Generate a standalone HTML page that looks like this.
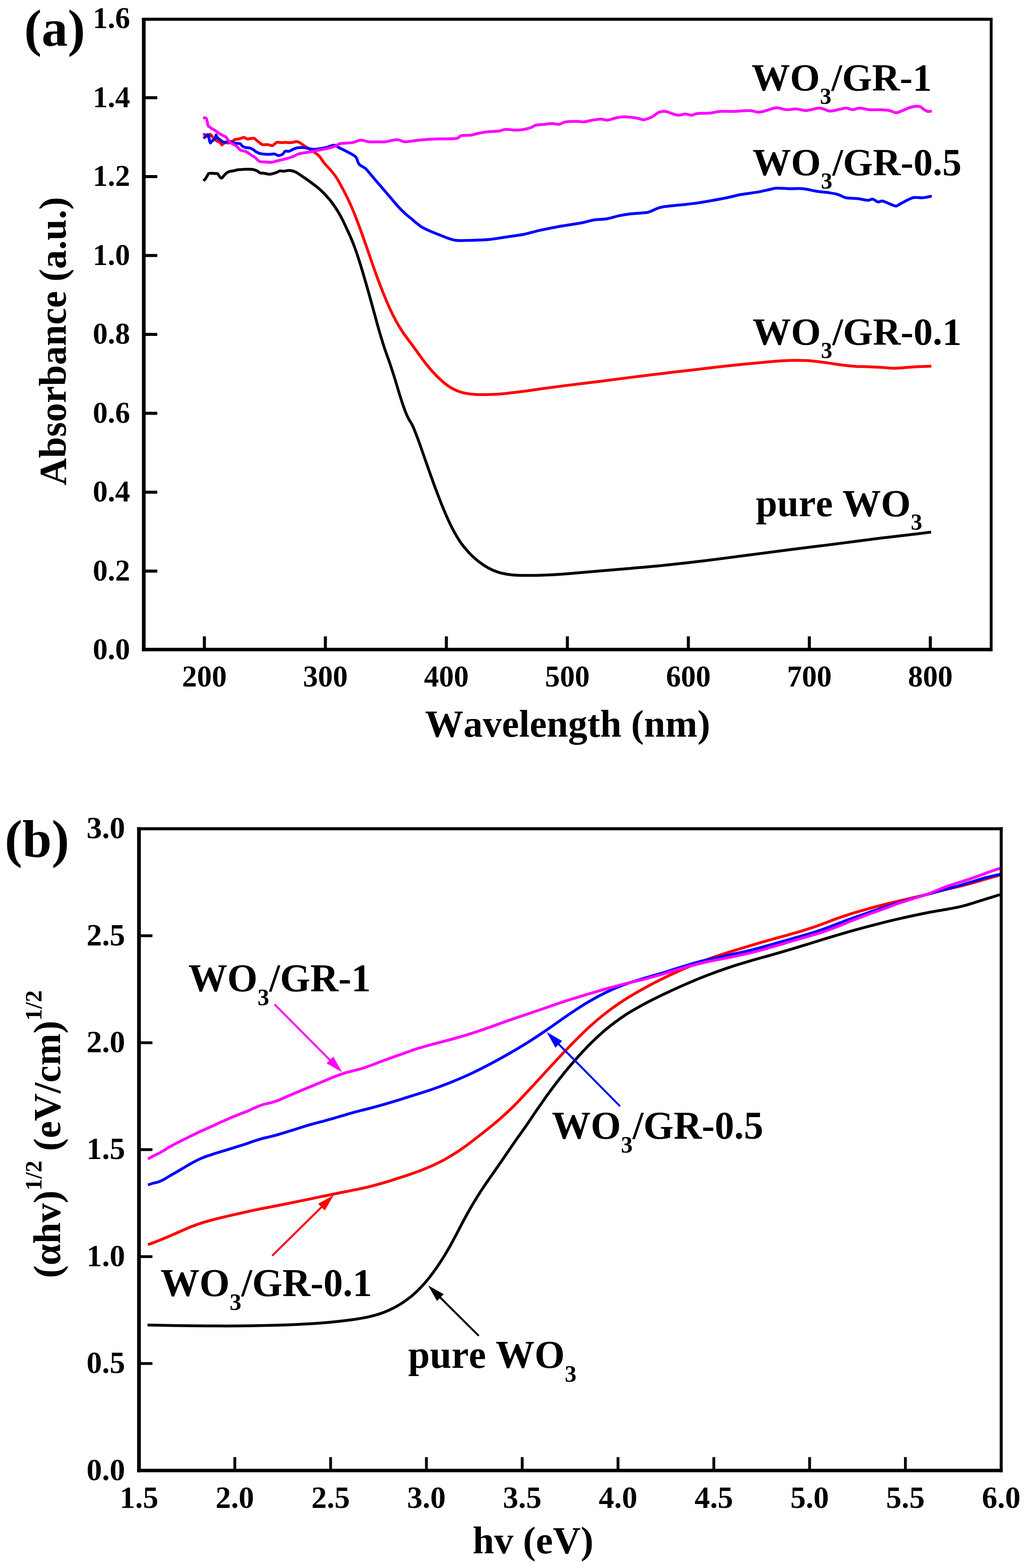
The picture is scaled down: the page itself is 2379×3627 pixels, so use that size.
<!DOCTYPE html>
<html><head><meta charset="utf-8"><title>WO3/GR absorbance</title>
<style>html,body{margin:0;padding:0;background:#fff;}svg{display:block;}</style>
</head><body>
<svg width="2379" height="3627" viewBox="0 0 2379 3627"><rect width="2379" height="3627" fill="#ffffff"/><g fill="none" stroke-linejoin="round" stroke-linecap="butt"><path d="M470.8,418.4 C471.6,417.6 473.9,415.8 475.4,413.7 C476.9,411.6 478.7,408.2 480.0,406.1 C481.3,404.1 481.3,402.3 483.1,401.4 C484.9,400.5 488.4,400.7 490.7,400.7 C493.0,400.7 494.8,401.3 496.9,401.4 C498.9,401.5 501.5,400.8 503.0,401.4 C504.5,402.0 504.6,403.5 506.1,405.3 C507.7,407.1 510.2,412.1 512.3,412.2 C514.3,412.3 516.3,408.2 518.4,406.1 C520.5,404.1 522.5,401.4 524.6,399.9 C526.7,398.3 528.2,397.6 530.7,396.8 C533.2,396.0 536.8,395.9 539.9,395.3 C543.0,394.7 546.1,393.5 549.2,393.0 C552.3,392.5 555.3,392.4 558.4,392.2 C561.5,391.9 564.5,391.6 567.6,391.5 C570.7,391.4 573.7,391.4 576.8,391.5 C579.9,391.6 583.0,391.6 586.1,392.2 C589.2,392.8 592.8,394.0 595.3,395.3 C597.8,396.6 598.8,399.0 601.4,399.9 C604.0,400.8 607.1,400.2 610.7,400.7 C614.3,401.2 619.4,402.9 623.0,403.0 C626.6,403.1 629.1,402.2 632.2,401.4 C635.3,400.6 638.8,399.4 641.4,398.4 C644.0,397.4 645.0,395.7 647.6,395.3 C650.2,394.9 653.7,396.2 656.8,396.1 C659.9,396.0 663.4,394.8 666.0,394.5 C668.6,394.2 669.6,394.1 672.2,394.5 C674.8,394.9 678.3,395.6 681.4,396.8 C684.5,398.0 687.5,399.8 690.6,401.7 C693.8,403.6 696.7,406.0 700.2,408.3 C703.6,410.7 707.1,412.9 711.3,416.0 C715.6,419.0 720.7,422.7 725.9,426.6 C731.0,430.6 736.8,434.8 742.2,439.9 C747.7,444.9 753.3,450.7 758.6,456.9 C764.0,463.1 769.4,469.9 774.3,477.1 C779.3,484.2 783.9,491.9 788.2,499.8 C792.5,507.6 796.3,516.1 800.2,524.3 C804.1,532.5 807.8,540.3 811.5,548.9 C815.2,557.5 819.0,567.1 822.2,576.0 C825.5,585.0 828.1,593.2 831.1,602.5 C834.0,611.7 836.6,620.1 840.0,631.5 C843.3,642.8 847.3,656.5 851.3,670.5 C855.3,684.6 859.6,700.4 863.9,715.9 C868.2,731.5 872.7,748.7 877.1,763.8 C881.5,778.9 886.1,793.9 890.3,806.7 C894.5,819.5 898.3,828.8 902.3,840.7 C906.3,852.6 910.2,864.7 914.3,877.9 C918.4,891.0 922.8,906.8 926.9,919.5 C931.0,932.2 935.5,945.5 938.9,954.1 C942.3,962.8 944.5,966.6 947.2,971.6 C949.8,976.7 951.0,976.2 954.7,984.4 C958.4,992.6 963.6,1005.9 969.2,1021.1 C974.8,1036.3 982.0,1057.8 988.4,1075.9 C994.8,1094.0 1001.3,1112.6 1007.7,1129.7 C1014.1,1146.8 1020.5,1163.5 1026.9,1178.7 C1033.3,1193.9 1039.4,1208.0 1046.1,1221.0 C1052.8,1233.9 1059.4,1245.6 1067.2,1256.5 C1075.1,1267.4 1084.0,1277.6 1093.2,1286.3 C1102.3,1295.0 1112.4,1302.8 1122.0,1308.9 C1131.6,1315.0 1140.8,1319.4 1150.8,1322.8 C1160.9,1326.3 1170.4,1328.0 1182.5,1329.4 C1194.7,1330.8 1209.0,1331.0 1223.9,1331.1 C1238.8,1331.2 1256.7,1330.6 1271.9,1329.8 C1287.1,1329.1 1300.8,1328.0 1315.2,1326.9 C1329.6,1325.8 1342.4,1324.6 1358.4,1323.2 C1374.4,1321.9 1393.9,1320.2 1411.2,1318.7 C1428.5,1317.2 1445.0,1315.9 1462.2,1314.4 C1479.5,1312.9 1494.3,1311.8 1514.6,1309.8 C1535.0,1307.9 1560.4,1305.2 1584.1,1302.5 C1607.8,1299.8 1632.7,1296.8 1657.0,1293.7 C1681.3,1290.7 1703.7,1287.6 1729.8,1284.2 C1756.0,1280.8 1784.9,1277.0 1813.9,1273.3 C1842.9,1269.6 1875.6,1265.6 1903.6,1262.1 C1931.6,1258.6 1959.7,1254.9 1982.1,1252.0 C2004.5,1249.1 2021.3,1246.8 2038.1,1244.8 C2054.9,1242.7 2068.8,1241.1 2083.0,1239.5 C2097.2,1237.8 2111.4,1236.2 2123.3,1234.8 C2135.3,1233.3 2149.5,1231.4 2154.7,1230.7" stroke="#000" stroke-width="6.5"/><path d="M470.0,312.3 C470.5,312.0 472.0,310.4 473.1,310.7 C474.2,310.9 475.4,312.8 476.9,313.8 C478.4,314.8 480.8,317.4 482.3,316.9 C483.8,316.4 484.7,311.0 486.1,310.7 C487.5,310.4 489.5,314.0 490.7,315.3 C491.9,316.6 491.9,317.5 493.1,318.4 C494.3,319.3 496.6,319.7 497.7,320.7 C498.8,321.7 498.9,323.5 500.0,324.6 C501.1,325.8 502.8,326.6 504.6,327.6 C506.4,328.6 509.3,329.4 510.7,330.7 C512.1,332.0 512.0,335.0 513.0,335.3 C514.0,335.6 515.5,333.2 516.9,332.3 C518.3,331.4 519.5,330.3 521.5,330.0 C523.5,329.7 526.6,331.1 529.2,330.7 C531.8,330.3 534.6,328.9 536.9,327.6 C539.2,326.3 540.5,324.0 543.0,323.0 C545.5,322.0 549.4,322.1 552.2,321.5 C555.0,320.9 557.9,319.8 559.9,319.2 C561.9,318.6 562.5,317.3 564.5,317.7 C566.5,318.1 569.9,321.0 572.2,321.5 C574.5,322.0 575.8,320.9 578.4,320.7 C581.0,320.4 585.0,319.4 587.6,320.0 C590.2,320.6 591.5,322.8 593.8,324.6 C596.1,326.4 599.1,329.0 601.4,330.7 C603.7,332.4 605.3,334.0 607.6,334.6 C609.9,335.2 612.7,334.5 615.3,334.6 C617.9,334.7 620.4,334.9 623.0,335.3 C625.6,335.7 628.7,337.3 630.7,336.9 C632.8,336.5 633.5,334.3 635.3,333.0 C637.1,331.7 638.6,329.7 641.4,329.2 C644.2,328.7 648.9,330.0 652.2,330.0 C655.5,330.0 658.8,329.2 661.4,329.2 C664.0,329.2 664.8,330.0 667.6,330.0 C670.4,330.0 675.2,329.6 678.3,329.2 C681.4,328.8 683.4,327.5 686.0,327.6 C688.6,327.7 690.1,328.0 693.7,330.0 C697.3,332.0 702.6,336.3 707.5,339.5 C712.4,342.7 717.8,345.7 722.9,349.2 C728.0,352.7 733.6,355.8 738.3,360.7 C743.0,365.6 746.7,372.9 751.1,378.3 C755.6,383.7 760.4,387.9 764.9,393.2 C769.4,398.5 773.8,403.5 778.2,410.2 C782.6,416.9 786.9,425.1 791.4,433.6 C795.9,442.0 800.8,451.2 805.3,460.7 C809.8,470.1 814.2,479.9 818.5,490.3 C822.8,500.7 826.9,511.8 831.1,523.1 C835.3,534.3 839.5,545.9 843.7,557.8 C847.9,569.6 851.9,581.6 856.3,594.3 C860.7,607.0 865.2,620.5 870.2,634.0 C875.1,647.5 880.7,662.5 886.0,675.6 C891.2,688.7 896.6,701.5 901.7,712.8 C906.8,724.0 911.7,733.7 916.8,743.0 C921.9,752.4 927.1,760.7 932.5,768.9 C938.0,777.1 943.9,784.4 949.6,792.2 C955.2,799.9 960.6,807.2 966.6,815.5 C972.6,823.7 978.5,832.5 985.9,841.6 C993.2,850.7 1002.1,861.4 1010.9,870.1 C1019.6,878.7 1029.1,887.4 1038.3,893.5 C1047.5,899.6 1056.2,903.8 1066.2,907.0 C1076.1,910.1 1086.5,911.3 1097.8,912.2 C1109.2,913.2 1121.9,912.9 1134.4,912.5 C1146.9,912.1 1160.0,911.1 1172.8,909.9 C1185.6,908.7 1198.4,907.0 1211.2,905.3 C1224.0,903.6 1234.0,901.9 1249.7,899.7 C1265.3,897.6 1283.2,895.3 1305.2,892.4 C1327.3,889.6 1358.0,885.9 1382.1,882.9 C1406.3,879.8 1429.7,876.7 1450.2,874.1 C1470.7,871.5 1486.9,869.5 1505.3,867.2 C1523.7,865.0 1542.0,862.8 1560.4,860.6 C1578.8,858.5 1597.1,856.3 1615.5,854.2 C1633.9,852.0 1652.2,849.9 1670.6,847.8 C1689.0,845.8 1708.5,843.6 1725.7,841.9 C1742.9,840.2 1759.9,838.6 1773.9,837.4 C1787.8,836.2 1798.6,835.3 1809.7,834.6 C1820.7,834.0 1830.3,833.5 1839.9,833.4 C1849.6,833.3 1858.8,833.6 1867.5,834.1 C1876.2,834.6 1883.8,835.5 1892.3,836.4 C1900.8,837.4 1909.3,838.6 1918.5,839.9 C1927.7,841.2 1937.3,843.0 1947.4,844.3 C1957.5,845.5 1968.3,846.7 1979.1,847.4 C1989.9,848.1 2001.6,848.0 2012.1,848.4 C2022.7,848.8 2033.2,849.5 2042.4,850.0 C2051.6,850.6 2059.0,851.7 2067.2,851.8 C2075.5,851.9 2082.8,851.2 2092.0,850.6 C2101.2,850.0 2111.8,848.9 2122.3,848.3 C2132.9,847.7 2149.9,847.1 2155.4,846.9" stroke="#ff0000" stroke-width="6.5"/><path d="M470.8,320.0 C471.3,319.6 472.3,319.1 473.8,317.7 C475.3,316.3 478.4,312.1 480.0,311.5 C481.6,310.9 482.3,311.6 483.1,313.8 C483.9,316.0 484.0,321.8 484.6,324.6 C485.2,327.4 485.9,330.4 486.9,330.7 C487.9,330.9 489.7,327.1 490.7,326.1 C491.7,325.1 491.8,325.9 493.1,324.6 C494.4,323.3 497.2,320.4 498.4,318.4 C499.5,316.3 499.2,312.3 500.0,312.3 C500.8,312.3 501.5,316.6 503.0,318.4 C504.5,320.2 507.1,321.5 509.2,323.0 C511.2,324.5 513.2,326.6 515.3,327.6 C517.3,328.6 519.2,329.4 521.5,329.2 C523.8,328.9 526.6,326.1 529.2,326.1 C531.8,326.1 534.1,328.3 536.9,329.2 C539.7,330.1 543.0,331.0 546.1,331.5 C549.2,332.0 552.7,331.2 555.3,332.3 C557.9,333.4 559.2,336.9 561.5,338.4 C563.8,339.9 566.4,340.9 569.2,341.5 C572.0,342.1 575.6,341.5 578.4,342.3 C581.2,343.1 583.8,344.7 586.1,346.1 C588.4,347.5 589.9,349.3 592.2,350.7 C594.5,352.1 597.3,353.7 599.9,354.6 C602.5,355.5 604.8,355.7 607.6,356.1 C610.4,356.5 613.7,356.8 616.8,356.9 C619.9,357.0 622.9,357.0 626.0,356.9 C629.1,356.8 632.2,355.6 635.3,356.1 C638.4,356.6 641.4,359.8 644.5,359.9 C647.6,360.0 651.1,358.6 653.7,356.9 C656.3,355.2 657.3,351.1 659.9,349.9 C662.5,348.7 666.0,350.7 669.1,349.9 C672.2,349.1 675.5,346.6 678.3,345.3 C681.1,344.0 683.4,342.9 686.0,342.3 C688.6,341.7 690.8,341.6 693.7,341.5 C696.7,341.4 698.2,340.9 703.7,341.5 C709.2,342.1 718.4,345.3 726.7,345.3 C735.0,345.3 746.0,343.1 753.7,341.5 C761.4,339.9 767.8,335.7 772.9,335.7 C778.0,335.7 779.3,338.9 784.4,341.5 C789.5,344.1 797.2,347.6 803.6,351.1 C810.0,354.6 818.2,357.8 822.8,362.6 C827.4,367.4 827.2,375.4 831.1,380.0 C835.0,384.6 841.2,385.5 846.2,390.1 C851.2,394.7 856.2,401.8 861.3,407.7 C866.3,413.6 871.5,419.5 876.5,425.4 C881.5,431.3 886.6,437.1 891.6,443.0 C896.6,448.9 901.7,454.8 906.7,460.7 C911.7,466.6 916.8,472.9 921.8,478.3 C926.8,483.8 932.0,488.8 937.0,493.4 C942.0,498.0 947.1,501.9 952.1,506.1 C957.1,510.3 962.2,514.9 967.2,518.7 C972.2,522.5 973.8,524.5 982.4,528.7 C991.0,533.0 1007.2,539.7 1019.1,544.2 C1031.0,548.7 1040.9,553.8 1053.7,555.7 C1066.5,557.6 1082.5,556.0 1095.9,555.7 C1109.4,555.4 1121.6,555.1 1134.4,553.8 C1147.2,552.5 1160.0,549.9 1172.8,548.0 C1185.6,546.1 1198.4,544.8 1211.2,542.3 C1224.0,539.8 1236.9,535.6 1249.7,532.7 C1262.5,529.8 1278.2,526.9 1288.1,525.0 C1298.0,523.1 1299.2,523.0 1309.1,521.4 C1319.0,519.8 1336.6,517.3 1347.5,515.2 C1358.4,513.1 1364.8,510.2 1374.4,508.7 C1384.0,507.2 1395.6,507.6 1405.2,506.0 C1414.8,504.4 1423.8,500.9 1432.1,499.1 C1440.4,497.3 1446.1,496.3 1455.1,495.2 C1464.1,494.1 1478.2,493.3 1485.9,492.5 C1493.6,491.7 1494.2,492.7 1501.2,490.6 C1508.2,488.5 1519.1,482.2 1528.1,479.8 C1537.1,477.4 1545.5,477.1 1555.1,476.0 C1564.7,474.9 1575.5,474.0 1585.8,472.9 C1596.0,471.8 1605.8,470.7 1616.6,469.1 C1627.4,467.5 1639.9,465.2 1650.7,463.3 C1661.5,461.4 1670.6,459.8 1681.5,457.5 C1692.4,455.2 1703.9,452.0 1716.1,449.8 C1728.3,447.6 1743.6,446.0 1754.5,444.1 C1765.4,442.2 1774.4,439.8 1781.4,438.3 C1788.5,436.8 1789.1,435.5 1796.8,435.2 C1804.5,434.9 1817.3,436.2 1827.6,436.4 C1837.8,436.6 1848.0,435.4 1858.3,436.4 C1868.5,437.4 1878.8,440.6 1889.1,442.2 C1899.3,443.8 1911.5,444.7 1919.8,446.0 C1928.1,447.3 1932.6,447.9 1939.0,449.8 C1945.4,451.7 1950.5,455.9 1958.2,457.5 C1965.9,459.1 1976.9,458.4 1985.2,459.4 C1993.5,460.4 2002.5,463.1 2008.2,463.3 C2014.0,463.5 2015.9,460.0 2019.7,460.6 C2023.5,461.2 2027.5,466.3 2031.3,467.1 C2035.1,467.9 2037.7,464.2 2042.8,465.2 C2047.9,466.2 2056.9,471.0 2062.0,472.9 C2067.1,474.8 2070.4,476.7 2073.6,476.7 C2076.8,476.7 2076.7,475.3 2081.2,472.9 C2085.7,470.5 2094.7,465.2 2100.5,462.5 C2106.3,459.8 2110.0,457.6 2115.8,456.8 C2121.6,456.0 2128.4,458.0 2135.1,457.5 C2141.8,457.0 2152.7,454.3 2156.2,453.7" stroke="#0000ff" stroke-width="6.5"/><path d="M470.0,273.1 C470.8,273.0 473.3,272.1 474.6,272.3 C475.9,272.6 476.8,272.8 477.7,274.6 C478.6,276.4 479.4,280.4 480.0,283.1 C480.6,285.8 480.6,288.9 481.5,290.7 C482.4,292.5 483.9,292.6 485.4,293.8 C486.9,295.0 488.5,296.3 490.7,297.7 C492.9,299.1 496.1,300.8 498.4,302.3 C500.7,303.8 502.6,305.5 504.6,306.9 C506.7,308.3 508.4,309.4 510.7,310.7 C513.0,312.0 516.4,313.6 518.4,314.6 C520.4,315.6 521.7,315.8 523.0,316.9 C524.3,318.0 524.8,319.7 526.1,321.5 C527.4,323.3 528.9,325.8 530.7,327.6 C532.5,329.4 534.9,331.0 536.9,332.3 C538.9,333.6 541.2,334.3 543.0,335.3 C544.8,336.3 546.1,337.1 547.6,338.4 C549.1,339.7 550.7,341.5 552.2,343.0 C553.8,344.5 554.9,346.6 556.9,347.6 C558.9,348.6 562.2,348.6 564.5,349.2 C566.8,349.8 568.7,350.5 570.7,351.5 C572.8,352.5 574.8,353.9 576.8,355.3 C578.8,356.7 580.7,358.4 583.0,359.9 C585.3,361.4 588.7,362.9 590.7,364.5 C592.8,366.1 593.5,367.6 595.3,369.2 C597.1,370.8 598.8,372.9 601.4,373.8 C604.0,374.7 607.9,374.2 610.7,374.5 C613.5,374.8 615.3,375.2 618.4,375.3 C621.5,375.4 625.8,375.7 629.1,375.3 C632.4,374.9 635.2,373.8 638.3,373.0 C641.4,372.2 644.5,371.5 647.6,370.7 C650.7,369.9 653.7,369.2 656.8,368.4 C659.9,367.6 662.9,367.0 666.0,366.1 C669.1,365.2 672.4,364.0 675.2,363.0 C678.0,362.0 680.3,361.0 682.9,359.9 C685.5,358.8 684.6,357.6 690.6,356.1 C696.6,354.6 711.2,352.6 719.1,351.1 C727.0,349.6 731.9,348.5 738.3,347.2 C744.7,345.9 751.1,345.0 757.5,343.4 C763.9,341.8 771.6,339.5 776.7,337.6 C781.8,335.7 781.8,333.2 788.2,331.9 C794.6,330.6 807.5,331.2 815.2,329.9 C822.9,328.6 828.0,324.5 834.4,324.2 C840.8,323.9 847.2,327.4 853.6,328.0 C860.0,328.6 866.4,328.0 872.8,328.0 C879.2,328.0 884.3,328.8 892.0,328.0 C899.7,327.2 911.2,323.0 918.9,323.0 C926.6,323.0 929.8,327.8 938.1,328.0 C946.4,328.2 957.4,325.3 968.9,324.2 C980.4,323.1 992.9,322.1 1007.3,321.5 C1021.7,320.9 1045.5,321.6 1055.4,320.3 C1065.3,319.0 1061.1,315.1 1066.9,313.8 C1072.7,312.5 1083.6,313.4 1090.0,312.6 C1096.4,311.8 1098.9,310.1 1105.3,308.8 C1111.7,307.5 1120.1,306.0 1128.4,305.0 C1136.7,304.0 1148.2,304.0 1155.3,303.0 C1162.3,302.0 1164.3,299.5 1170.7,299.2 C1177.1,298.9 1186.7,301.1 1193.7,301.1 C1200.8,301.1 1207.2,300.2 1213.0,299.2 C1218.8,298.2 1223.8,296.9 1228.3,295.3 C1232.8,293.7 1234.8,290.9 1239.9,289.6 C1245.0,288.3 1252.7,288.4 1259.1,287.7 C1265.5,287.0 1272.5,285.7 1278.3,285.7 C1284.1,285.7 1288.6,288.3 1293.7,287.7 C1298.8,287.1 1302.0,283.1 1309.1,281.9 C1316.1,280.7 1329.0,280.7 1336.0,280.7 C1343.0,280.7 1345.5,282.3 1351.3,281.9 C1357.1,281.4 1364.2,279.1 1370.6,278.0 C1377.0,276.9 1384.0,275.4 1389.8,275.4 C1395.6,275.4 1399.4,278.4 1405.2,278.0 C1411.0,277.6 1418.7,274.3 1424.4,273.0 C1430.2,271.7 1433.3,270.6 1439.7,270.4 C1446.1,270.1 1456.4,270.9 1462.8,271.5 C1469.2,272.1 1473.7,273.3 1478.2,274.2 C1482.7,275.1 1484.6,277.5 1489.7,276.9 C1494.8,276.3 1503.1,273.2 1508.9,270.4 C1514.7,267.6 1519.2,262.1 1524.3,260.0 C1529.4,257.9 1534.6,257.2 1539.7,257.7 C1544.8,258.1 1550.0,261.2 1555.1,262.7 C1560.2,264.2 1565.3,266.3 1570.4,266.5 C1575.5,266.7 1580.7,263.8 1585.8,263.8 C1590.9,263.8 1596.7,266.7 1601.2,266.5 C1605.7,266.3 1605.7,263.5 1612.7,262.7 C1619.7,261.9 1634.2,262.3 1643.1,261.5 C1652.0,260.7 1657.1,258.3 1666.1,257.7 C1675.1,257.1 1685.4,258.0 1696.9,257.7 C1708.4,257.4 1725.7,255.4 1735.3,255.7 C1744.9,256.0 1748.1,259.6 1754.5,259.6 C1760.9,259.6 1766.7,257.4 1773.7,255.7 C1780.8,254.0 1789.1,249.5 1796.8,249.2 C1804.5,248.9 1812.2,253.4 1819.9,253.8 C1827.6,254.2 1835.2,251.6 1842.9,251.9 C1850.6,252.2 1857.0,256.0 1866.0,255.7 C1875.0,255.4 1887.7,249.8 1896.7,250.0 C1905.7,250.2 1912.8,256.3 1919.8,256.9 C1926.8,257.5 1932.6,255.0 1939.0,253.8 C1945.4,252.7 1952.4,250.0 1958.2,250.0 C1964.0,250.0 1968.5,253.8 1973.6,253.8 C1978.7,253.8 1982.6,250.0 1989.0,250.0 C1995.4,250.0 2004.4,253.2 2012.1,253.8 C2019.8,254.4 2027.4,253.5 2035.1,253.8 C2042.8,254.1 2051.8,254.5 2058.2,255.7 C2064.6,256.8 2068.5,260.7 2073.6,260.7 C2078.7,260.7 2083.2,257.8 2088.9,255.7 C2094.7,253.6 2101.7,249.6 2108.1,248.0 C2114.5,246.4 2122.3,245.1 2127.4,246.1 C2132.5,247.1 2135.7,251.9 2138.9,253.8 C2142.1,255.7 2143.7,257.2 2146.6,257.7 C2149.5,258.2 2154.6,257.0 2156.2,256.9" stroke="#ff00ff" stroke-width="6.5"/></g><g stroke="#000" fill="none"><path d="M332.75,41.10 V1506.60" stroke-width="8.5"/><path d="M2293.80,41.10 V1506.60" stroke-width="6.5"/><path d="M328.50,44.50 H2297.05" stroke-width="6.8"/><path d="M328.50,1502.60 H2297.05" stroke-width="8.0"/></g><path d="M333,1321.0 H364 M333,1138.5 H364 M333,956.0 H364 M333,773.5 H364 M333,591.0 H364 M333,408.5 H364 M333,226.0 H364 M473.0,1503 V1472 M753.0,1503 V1472 M1033.0,1503 V1472 M1313.0,1503 V1472 M1593.0,1503 V1472 M1873.0,1503 V1472 M2153.0,1503 V1472" stroke="#000" stroke-width="7" fill="none"/><g font-family="'Liberation Serif','Times New Roman',serif" font-weight="bold" font-size="69" fill="#000" style="font-kerning:none"><text x="301" y="1525.0" text-anchor="end">0.0</text><text x="301" y="1342.5" text-anchor="end">0.2</text><text x="301" y="1160.0" text-anchor="end">0.4</text><text x="301" y="977.5" text-anchor="end">0.6</text><text x="301" y="795.0" text-anchor="end">0.8</text><text x="301" y="612.5" text-anchor="end">1.0</text><text x="301" y="430.0" text-anchor="end">1.2</text><text x="301" y="247.5" text-anchor="end">1.4</text><text x="301" y="65.0" text-anchor="end">1.6</text><text x="473.0" y="1587.5" text-anchor="middle">200</text><text x="753.0" y="1587.5" text-anchor="middle">300</text><text x="1033.0" y="1587.5" text-anchor="middle">400</text><text x="1313.0" y="1587.5" text-anchor="middle">500</text><text x="1593.0" y="1587.5" text-anchor="middle">600</text><text x="1873.0" y="1587.5" text-anchor="middle">700</text><text x="2153.0" y="1587.5" text-anchor="middle">800</text></g><text font-family="'Liberation Serif','Times New Roman',serif" font-weight="bold" font-size="88" style="font-kerning:none" transform="translate(152.3,1123) rotate(-90)">Absorbance (a.u.)</text><text font-family="'Liberation Serif','Times New Roman',serif" font-weight="bold" font-size="89" style="font-kerning:none" x="983.5" y="1703.5">Wavelength (nm)</text><text font-family="'Liberation Serif','Times New Roman',serif" font-weight="bold" font-size="121" style="font-kerning:none" x="56" y="106">(a)</text><text font-family="'Liberation Serif','Times New Roman',serif" font-weight="bold" font-size="89" style="font-kerning:none" x="1739.3" y="209">WO<tspan font-size="53" dy="31">3</tspan><tspan dy="-31">/GR-1</tspan></text><text font-family="'Liberation Serif','Times New Roman',serif" font-weight="bold" font-size="89" style="font-kerning:none" x="1741.4" y="405.4">WO<tspan font-size="53" dy="31">3</tspan><tspan dy="-31">/GR-0.5</tspan></text><text font-family="'Liberation Serif','Times New Roman',serif" font-weight="bold" font-size="89" style="font-kerning:none" x="1741.4" y="796.9">WO<tspan font-size="53" dy="31">3</tspan><tspan dy="-31">/GR-0.1</tspan></text><text font-family="'Liberation Serif','Times New Roman',serif" font-weight="bold" font-size="89" style="font-kerning:none" x="1749.3" y="1194">pure WO<tspan font-size="53" dy="31">3</tspan></text><g fill="none" stroke-linejoin="round" stroke-linecap="butt"><path d="M341.5,3065.1 C352.1,3065.3 382.7,3065.9 404.9,3066.2 C427.2,3066.5 450.8,3066.9 475.1,3067.0 C499.4,3067.2 525.5,3067.2 550.6,3067.0 C575.7,3066.8 601.9,3066.3 625.9,3065.7 C649.9,3065.1 673.5,3064.3 694.8,3063.2 C716.0,3062.2 735.5,3060.9 753.5,3059.4 C771.5,3057.9 787.8,3056.2 802.7,3054.3 C817.6,3052.4 831.0,3050.4 842.9,3048.1 C854.9,3045.8 864.8,3043.4 874.5,3040.4 C884.2,3037.4 892.6,3034.2 901.2,3030.2 C909.9,3026.2 918.4,3021.8 926.5,3016.7 C934.7,3011.6 942.9,3005.7 950.4,2999.7 C957.9,2993.7 965.0,2987.0 971.4,2980.5 C977.8,2974.0 983.5,2967.4 988.8,2961.0 C994.2,2954.6 998.8,2948.4 1003.4,2942.1 C1008.0,2935.8 1012.2,2929.6 1016.6,2923.2 C1020.9,2916.7 1025.1,2910.1 1029.4,2903.1 C1033.7,2896.1 1037.9,2888.8 1042.2,2881.2 C1046.5,2873.6 1050.7,2865.4 1055.0,2857.3 C1059.3,2849.3 1063.5,2840.9 1067.8,2832.8 C1072.1,2824.8 1076.3,2816.8 1080.6,2809.1 C1084.9,2801.4 1089.1,2793.9 1093.4,2786.7 C1097.7,2779.4 1102.0,2772.4 1106.2,2765.5 C1110.5,2758.7 1114.8,2752.1 1119.1,2745.7 C1123.3,2739.2 1127.6,2733.1 1131.9,2727.0 C1136.2,2720.8 1140.4,2714.9 1144.7,2708.8 C1149.0,2702.7 1153.2,2696.6 1157.5,2690.4 C1161.8,2684.3 1166.0,2678.0 1170.3,2671.7 C1174.6,2665.5 1178.8,2659.2 1183.1,2653.0 C1187.4,2646.8 1191.6,2640.7 1195.9,2634.6 C1200.2,2628.6 1204.2,2623.0 1208.7,2616.6 C1213.2,2610.2 1217.2,2604.7 1222.9,2596.3 C1228.7,2587.9 1234.7,2578.6 1243.2,2566.3 C1251.8,2554.1 1262.4,2538.4 1274.3,2522.5 C1286.1,2506.7 1300.5,2488.0 1314.5,2471.2 C1328.6,2454.5 1343.9,2437.2 1358.7,2422.0 C1373.6,2406.8 1388.6,2392.6 1403.6,2380.1 C1418.5,2367.6 1433.5,2356.9 1448.4,2347.0 C1463.4,2337.2 1478.3,2329.1 1493.3,2321.1 C1508.2,2313.1 1522.9,2306.1 1538.1,2298.8 C1553.3,2291.6 1568.3,2284.7 1584.4,2277.6 C1600.5,2270.6 1617.5,2263.4 1634.7,2256.7 C1652.0,2250.1 1670.6,2243.4 1687.9,2237.6 C1705.2,2231.9 1722.2,2226.9 1738.3,2222.2 C1754.4,2217.4 1769.3,2213.5 1784.5,2209.2 C1799.7,2204.9 1814.4,2200.7 1829.4,2196.2 C1844.3,2191.7 1859.3,2187.1 1874.2,2182.5 C1889.2,2177.9 1904.1,2173.1 1919.1,2168.6 C1934.0,2164.1 1949.0,2159.7 1963.9,2155.4 C1978.8,2151.1 1993.9,2147.0 2008.7,2143.1 C2023.5,2139.2 2038.7,2135.3 2052.7,2131.9 C2066.7,2128.4 2080.5,2125.3 2092.8,2122.5 C2105.1,2119.7 2115.8,2117.4 2126.4,2115.2 C2137.0,2113.0 2146.4,2111.1 2156.4,2109.2 C2166.5,2107.4 2176.8,2105.8 2186.7,2104.0 C2196.6,2102.2 2206.7,2100.6 2215.8,2098.6 C2225.0,2096.6 2233.2,2094.4 2241.3,2092.1 C2249.5,2089.8 2256.8,2087.3 2264.6,2084.9 C2272.5,2082.4 2280.3,2079.9 2288.5,2077.4 C2296.6,2074.8 2309.5,2070.8 2313.7,2069.5" stroke="#000" stroke-width="6.5"/><path d="M342.4,2879.1 C345.7,2877.9 355.6,2874.2 362.0,2871.8 C368.5,2869.3 374.5,2866.8 381.1,2864.1 C387.6,2861.4 394.3,2858.6 401.3,2855.5 C408.3,2852.5 415.7,2849.0 423.1,2845.8 C430.5,2842.6 438.1,2839.3 445.6,2836.4 C453.0,2833.5 460.5,2830.8 468.0,2828.4 C475.5,2826.1 482.9,2824.0 490.4,2822.0 C497.9,2820.0 505.3,2818.2 512.8,2816.4 C520.3,2814.6 527.8,2812.9 535.2,2811.2 C542.7,2809.4 550.1,2807.7 557.7,2806.0 C565.2,2804.3 572.7,2802.6 580.7,2800.9 C588.6,2799.2 596.9,2797.5 605.6,2795.8 C614.3,2794.1 623.6,2792.3 632.8,2790.5 C641.9,2788.7 651.3,2786.8 660.5,2785.0 C669.7,2783.2 678.7,2781.3 688.0,2779.4 C697.3,2777.5 706.6,2775.6 716.3,2773.6 C726.0,2771.6 736.0,2769.5 746.0,2767.4 C756.0,2765.4 766.2,2763.2 776.0,2761.2 C785.8,2759.2 795.6,2757.3 804.6,2755.5 C813.7,2753.7 822.2,2752.1 830.3,2750.4 C838.4,2748.8 845.5,2747.3 853.2,2745.4 C860.8,2743.5 868.3,2741.5 876.3,2739.2 C884.3,2737.0 892.8,2734.4 901.2,2731.8 C909.7,2729.2 918.3,2726.5 926.9,2723.7 C935.4,2721.0 944.0,2718.1 952.5,2715.1 C961.0,2712.1 969.6,2709.1 978.1,2705.7 C986.6,2702.3 995.2,2698.8 1003.7,2694.9 C1012.3,2690.9 1020.8,2686.7 1029.4,2682.0 C1037.9,2677.2 1046.5,2672.1 1055.0,2666.6 C1063.5,2661.1 1072.1,2655.0 1080.6,2648.8 C1089.1,2642.6 1097.7,2635.9 1106.2,2629.2 C1114.8,2622.6 1123.2,2616.0 1131.9,2608.9 C1140.6,2601.8 1148.9,2595.3 1158.5,2586.8 C1168.0,2578.4 1177.8,2569.4 1189.2,2558.1 C1200.5,2546.8 1213.2,2533.1 1226.6,2518.8 C1239.9,2504.6 1254.7,2488.1 1269.3,2472.4 C1283.9,2456.7 1299.0,2440.0 1313.9,2424.7 C1328.8,2409.3 1343.8,2393.9 1358.7,2380.1 C1373.7,2366.3 1388.6,2353.5 1403.6,2342.0 C1418.5,2330.4 1433.5,2320.4 1448.4,2310.8 C1463.4,2301.2 1478.3,2292.8 1493.3,2284.6 C1508.2,2276.4 1522.9,2268.9 1538.1,2261.5 C1553.3,2254.1 1568.3,2247.1 1584.4,2240.2 C1600.5,2233.3 1617.6,2226.5 1634.7,2220.1 C1651.9,2213.8 1670.7,2207.7 1687.3,2202.4 C1704.0,2197.0 1720.2,2192.2 1734.7,2187.9 C1749.1,2183.5 1761.5,2180.0 1774.2,2176.3 C1786.9,2172.7 1798.7,2169.6 1810.9,2166.1 C1823.1,2162.7 1835.7,2159.3 1847.3,2155.8 C1859.0,2152.4 1870.3,2148.9 1880.7,2145.4 C1891.1,2141.8 1900.4,2138.3 1909.8,2134.8 C1919.2,2131.3 1927.9,2127.8 1937.0,2124.6 C1946.1,2121.3 1955.0,2118.3 1964.5,2115.3 C1973.9,2112.3 1983.7,2109.5 1993.6,2106.6 C2003.5,2103.7 2013.9,2100.8 2023.9,2098.1 C2033.9,2095.5 2043.7,2092.9 2053.6,2090.5 C2063.5,2088.0 2073.4,2085.6 2083.3,2083.3 C2093.3,2081.0 2103.7,2078.7 2113.3,2076.5 C2122.9,2074.3 2132.2,2072.2 2141.1,2070.1 C2149.9,2067.9 2157.6,2065.6 2166.3,2063.3 C2174.9,2061.1 2183.4,2058.9 2192.9,2056.6 C2202.4,2054.3 2212.8,2052.2 2223.2,2049.6 C2233.5,2047.0 2244.5,2044.1 2255.0,2041.2 C2265.6,2038.3 2276.0,2035.0 2286.3,2032.0 C2296.6,2029.0 2311.7,2024.8 2316.8,2023.3" stroke="#ff0000" stroke-width="6.5"/><path d="M342.4,2741.0 C344.4,2740.3 350.2,2738.2 354.2,2737.0 C358.2,2735.9 362.4,2735.4 366.5,2734.0 C370.6,2732.6 374.5,2730.7 378.9,2728.4 C383.2,2726.0 387.7,2723.0 392.9,2720.0 C398.0,2717.0 403.9,2713.8 409.7,2710.4 C415.5,2707.1 421.6,2703.3 427.6,2699.8 C433.6,2696.3 439.8,2692.5 445.6,2689.4 C451.4,2686.2 456.8,2683.4 462.4,2680.9 C468.0,2678.3 473.1,2676.3 479.2,2674.1 C485.4,2671.9 492.3,2670.0 499.4,2667.7 C506.5,2665.5 514.3,2663.1 521.8,2660.8 C529.3,2658.4 536.7,2656.1 544.2,2653.8 C551.7,2651.5 559.3,2649.1 566.6,2646.8 C573.9,2644.4 581.2,2641.6 588.0,2639.4 C594.7,2637.3 600.8,2635.3 607.0,2633.6 C613.2,2631.9 618.6,2631.0 624.9,2629.4 C631.3,2627.8 638.0,2626.0 645.1,2624.0 C652.2,2622.0 660.4,2619.4 667.5,2617.2 C674.6,2615.1 681.4,2612.9 687.7,2610.9 C694.1,2608.8 699.5,2606.9 705.7,2605.1 C711.8,2603.2 718.0,2601.5 724.7,2599.7 C731.4,2597.8 738.7,2596.1 746.0,2594.1 C753.3,2592.1 760.9,2589.9 768.4,2587.8 C775.9,2585.6 783.4,2583.4 790.9,2581.2 C798.4,2579.0 805.8,2576.7 813.3,2574.6 C820.8,2572.6 828.2,2570.6 835.7,2568.7 C843.2,2566.8 850.6,2565.0 858.1,2563.0 C865.6,2561.0 873.0,2559.0 880.5,2556.9 C888.0,2554.9 895.5,2552.7 903.0,2550.4 C910.5,2548.2 917.9,2545.9 925.4,2543.6 C932.9,2541.3 940.3,2538.9 947.8,2536.5 C955.3,2534.2 961.5,2532.3 970.2,2529.5 C978.9,2526.7 987.9,2524.0 1000.0,2519.7 C1012.2,2515.5 1028.0,2509.9 1043.0,2503.8 C1057.9,2497.8 1074.4,2490.7 1089.7,2483.6 C1104.9,2476.4 1119.6,2469.0 1134.5,2461.1 C1149.5,2453.3 1164.4,2445.0 1179.4,2436.4 C1194.3,2427.8 1209.3,2419.0 1224.2,2409.5 C1239.2,2400.1 1254.1,2390.0 1269.1,2379.8 C1284.0,2369.6 1299.0,2358.5 1313.9,2348.4 C1328.8,2338.3 1343.8,2328.2 1358.7,2319.3 C1373.7,2310.4 1388.6,2302.2 1403.6,2295.0 C1418.5,2287.8 1433.5,2281.7 1448.4,2276.2 C1463.4,2270.8 1478.3,2266.6 1493.3,2262.1 C1508.2,2257.6 1523.2,2253.7 1538.1,2249.1 C1553.1,2244.6 1567.1,2239.6 1583.0,2234.9 C1598.8,2230.1 1615.6,2225.0 1633.4,2220.7 C1651.1,2216.3 1671.6,2212.6 1689.3,2208.7 C1707.0,2204.8 1723.8,2201.4 1739.7,2197.4 C1755.5,2193.5 1769.6,2189.3 1784.5,2185.1 C1799.5,2180.9 1815.2,2176.4 1829.4,2172.3 C1843.6,2168.2 1857.4,2164.5 1869.7,2160.8 C1882.1,2157.0 1892.1,2153.9 1903.3,2150.0 C1914.6,2146.1 1925.4,2141.6 1937.0,2137.2 C1948.6,2132.9 1961.3,2128.0 1972.9,2123.8 C1984.5,2119.6 1995.5,2115.9 2006.5,2112.1 C2017.5,2108.3 2027.4,2104.8 2039.0,2100.9 C2050.6,2097.0 2063.7,2092.7 2076.0,2088.9 C2088.4,2085.1 2101.8,2081.2 2113.0,2078.0 C2124.2,2074.8 2133.8,2072.1 2143.3,2069.4 C2152.8,2066.7 2161.2,2064.2 2170.2,2061.8 C2179.2,2059.3 2187.9,2057.1 2197.1,2054.7 C2206.3,2052.3 2215.8,2049.9 2225.1,2047.2 C2234.5,2044.5 2243.7,2041.4 2253.2,2038.5 C2262.6,2035.7 2271.3,2032.8 2281.9,2030.0 C2292.6,2027.3 2311.0,2023.3 2316.8,2022.0" stroke="#0000ff" stroke-width="6.5"/><path d="M342.4,2680.9 C344.6,2679.7 351.2,2675.7 355.3,2673.6 C359.4,2671.4 363.2,2670.1 367.1,2668.1 C371.0,2666.0 374.6,2663.9 378.9,2661.3 C383.1,2658.8 387.5,2655.7 392.9,2652.7 C398.2,2649.7 404.3,2646.5 410.8,2643.1 C417.3,2639.8 424.8,2636.1 432.1,2632.5 C439.4,2628.9 447.4,2624.9 454.5,2621.5 C461.6,2618.1 468.6,2615.0 474.7,2612.2 C480.9,2609.4 485.7,2607.3 491.5,2604.7 C497.3,2602.1 502.9,2599.4 509.4,2596.4 C516.0,2593.4 523.5,2590.0 530.8,2586.9 C538.1,2583.8 545.9,2580.7 553.2,2577.8 C560.5,2574.9 567.9,2572.2 574.5,2569.4 C581.1,2566.6 587.0,2563.5 593.0,2561.0 C598.9,2558.5 604.5,2556.2 610.3,2554.5 C616.1,2552.8 622.1,2552.1 627.7,2550.6 C633.3,2549.0 638.3,2547.5 644.0,2545.3 C649.7,2543.1 655.6,2540.1 661.9,2537.3 C668.3,2534.6 675.4,2531.6 682.1,2528.7 C688.8,2525.8 695.4,2523.1 702.3,2520.2 C709.2,2517.3 716.3,2514.4 723.6,2511.4 C730.9,2508.4 738.5,2505.3 746.0,2502.2 C753.5,2499.2 760.9,2495.8 768.4,2492.8 C775.9,2489.8 783.4,2486.8 790.9,2484.3 C798.4,2481.8 805.8,2480.0 813.3,2477.9 C820.8,2475.9 828.0,2474.4 835.7,2472.1 C843.4,2469.8 851.4,2466.8 859.2,2464.0 C867.1,2461.1 875.3,2457.8 882.8,2455.0 C890.3,2452.2 897.0,2449.9 904.1,2447.3 C911.2,2444.8 918.1,2442.3 925.4,2439.7 C932.7,2437.1 940.3,2434.3 947.8,2431.7 C955.3,2429.1 961.5,2426.9 970.2,2424.2 C978.9,2421.6 987.9,2419.1 1000.0,2415.8 C1012.2,2412.5 1028.0,2408.6 1043.0,2404.5 C1057.9,2400.4 1074.4,2395.8 1089.7,2390.9 C1104.9,2386.1 1119.6,2380.9 1134.5,2375.7 C1149.5,2370.5 1164.4,2364.8 1179.4,2359.7 C1194.3,2354.5 1209.3,2349.6 1224.2,2344.5 C1239.2,2339.4 1254.1,2334.2 1269.1,2329.1 C1284.0,2323.9 1299.0,2318.7 1313.9,2313.9 C1328.8,2309.1 1343.8,2304.7 1358.7,2300.2 C1373.7,2295.7 1388.6,2291.2 1403.6,2287.0 C1418.5,2282.8 1433.5,2279.0 1448.4,2275.2 C1463.4,2271.4 1478.3,2268.2 1493.3,2264.3 C1508.2,2260.5 1523.2,2256.3 1538.1,2252.0 C1553.1,2247.6 1567.1,2242.7 1583.0,2238.3 C1598.8,2233.9 1615.6,2229.5 1633.4,2225.5 C1651.1,2221.5 1671.6,2218.0 1689.3,2214.3 C1707.0,2210.6 1723.8,2207.2 1739.7,2203.3 C1755.5,2199.5 1769.6,2195.5 1784.5,2191.2 C1799.5,2187.0 1815.2,2182.2 1829.4,2178.0 C1843.6,2173.9 1857.4,2169.9 1869.7,2166.2 C1882.1,2162.6 1892.1,2159.9 1903.3,2156.2 C1914.6,2152.4 1925.4,2148.3 1937.0,2143.8 C1948.6,2139.3 1960.9,2133.8 1972.9,2129.0 C1984.8,2124.3 1996.8,2119.8 2008.7,2115.3 C2020.7,2110.9 2032.6,2106.8 2044.6,2102.4 C2056.6,2098.1 2068.9,2093.3 2080.5,2089.3 C2092.1,2085.3 2103.9,2081.7 2114.2,2078.5 C2124.4,2075.2 2133.6,2072.7 2142.2,2069.7 C2150.8,2066.8 2157.9,2063.7 2165.7,2060.6 C2173.5,2057.5 2181.0,2054.1 2189.2,2051.1 C2197.4,2048.1 2206.2,2045.3 2215.0,2042.5 C2223.8,2039.6 2233.3,2036.9 2241.9,2034.1 C2250.5,2031.2 2258.6,2028.2 2266.6,2025.3 C2274.6,2022.5 2281.4,2019.8 2289.8,2016.8 C2298.2,2013.9 2312.3,2009.1 2316.8,2007.6" stroke="#ff00ff" stroke-width="6.5"/></g><path d="M635.4,2323.1 L764.9,2453.3" stroke="#ff00ff" stroke-width="4.5" fill="none"/><path d="M791.7,2480.2 L755.7,2459.6 L771.3,2444.1 Z" fill="#ff00ff"/><path d="M1435.0,2559.0 L1291.8,2414.2" stroke="#0000ff" stroke-width="4.5" fill="none"/><path d="M1265.1,2387.2 L1301.0,2407.9 L1285.4,2423.4 Z" fill="#0000ff"/><path d="M630.0,2904.7 L745.4,2790.9" stroke="#ff0000" stroke-width="4.5" fill="none"/><path d="M772.4,2764.2 L751.7,2800.1 L736.2,2784.5 Z" fill="#ff0000"/><path d="M1108.0,3090.0 L1017.6,3000.1" stroke="#000000" stroke-width="4.5" fill="none"/><path d="M990.7,2973.3 L1026.8,2993.7 L1011.3,3009.3 Z" fill="#000000"/><g stroke="#000" fill="none"><path d="M321.60,1913.55 V3405.60" stroke-width="8.6"/><path d="M2317.00,1913.55 V3405.60" stroke-width="6.9"/><path d="M317.30,1917.00 H2320.45" stroke-width="6.9"/><path d="M317.30,3401.50 H2320.45" stroke-width="8.2"/></g><path d="M321.7,3154.1 H352.7 M321.7,2906.7 H352.7 M321.7,2659.3 H352.7 M321.7,2411.9 H352.7 M321.7,2164.5 H352.7 M543.4,3401.5 V3370.5 M765.1,3401.5 V3370.5 M986.8,3401.5 V3370.5 M1208.5,3401.5 V3370.5 M1430.2,3401.5 V3370.5 M1651.9,3401.5 V3370.5 M1873.6,3401.5 V3370.5 M2095.3,3401.5 V3370.5" stroke="#000" stroke-width="6.5" fill="none"/><g font-family="'Liberation Serif','Times New Roman',serif" font-weight="bold" font-size="71.5" fill="#000" style="font-kerning:none"><text x="289.5" y="3423.5" text-anchor="end">0.0</text><text x="289.5" y="3176.1" text-anchor="end">0.5</text><text x="289.5" y="2928.7" text-anchor="end">1.0</text><text x="289.5" y="2681.3" text-anchor="end">1.5</text><text x="289.5" y="2433.9" text-anchor="end">2.0</text><text x="289.5" y="2186.5" text-anchor="end">2.5</text><text x="289.5" y="1939.1" text-anchor="end">3.0</text><text x="321.7" y="3487.5" text-anchor="middle">1.5</text><text x="543.4" y="3487.5" text-anchor="middle">2.0</text><text x="765.1" y="3487.5" text-anchor="middle">2.5</text><text x="986.8" y="3487.5" text-anchor="middle">3.0</text><text x="1208.5" y="3487.5" text-anchor="middle">3.5</text><text x="1430.2" y="3487.5" text-anchor="middle">4.0</text><text x="1651.9" y="3487.5" text-anchor="middle">4.5</text><text x="1873.6" y="3487.5" text-anchor="middle">5.0</text><text x="2095.3" y="3487.5" text-anchor="middle">5.5</text><text x="2317.0" y="3487.5" text-anchor="middle">6.0</text></g><text font-family="'Liberation Serif','Times New Roman',serif" font-weight="bold" font-size="89" style="font-kerning:none" x="1094" y="3593">hv (eV)</text><text font-family="'Liberation Serif','Times New Roman',serif" font-weight="bold" font-size="122" style="font-kerning:none" x="11" y="1982">(b)</text><text font-family="'Liberation Serif','Times New Roman',serif" font-weight="bold" font-size="89" style="font-kerning:none" transform="translate(138.5,2956.6) rotate(-90)">(αhv)<tspan font-size="54" dy="-43">1/2</tspan><tspan dy="43"> (eV/cm)</tspan><tspan font-size="55" dy="-43">1/2</tspan></text><text font-family="'Liberation Serif','Times New Roman',serif" font-weight="bold" font-size="90" style="font-kerning:none" x="436" y="2293">WO<tspan font-size="54" dy="32">3</tspan><tspan dy="-32">/GR-1</tspan></text><text font-family="'Liberation Serif','Times New Roman',serif" font-weight="bold" font-size="90" style="font-kerning:none" x="1277" y="2634.3">WO<tspan font-size="54" dy="32">3</tspan><tspan dy="-32">/GR-0.5</tspan></text><text font-family="'Liberation Serif','Times New Roman',serif" font-weight="bold" font-size="90" style="font-kerning:none" x="371.4" y="2997.7">WO<tspan font-size="54" dy="32">3</tspan><tspan dy="-32">/GR-0.1</tspan></text><text font-family="'Liberation Serif','Times New Roman',serif" font-weight="bold" font-size="90" style="font-kerning:none" x="944.6" y="3163.7">pure WO<tspan font-size="54" dy="32">3</tspan></text></svg>
</body></html>
